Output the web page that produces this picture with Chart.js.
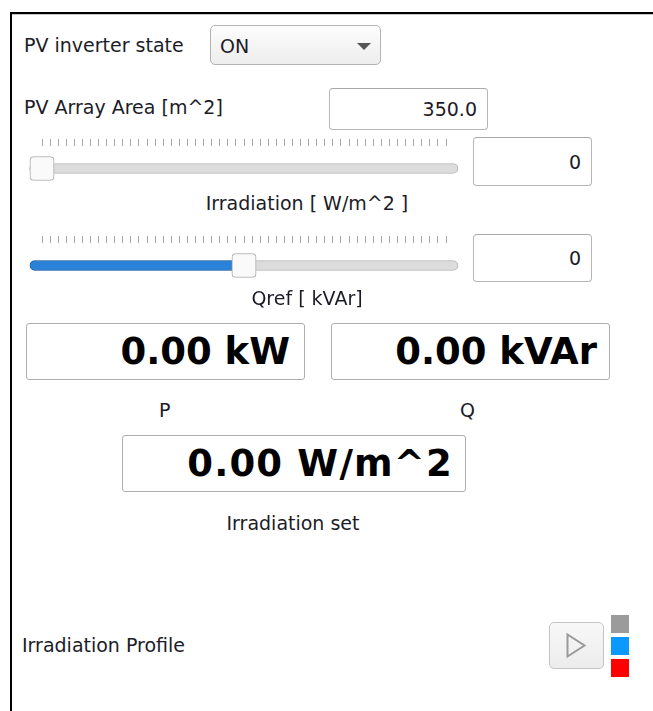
<!DOCTYPE html>
<html>
<head>
<meta charset="utf-8">
<script src="https://cdn.jsdelivr.net/npm/chart.js@4.4.1/dist/chart.umd.min.js"></script>
<style>
  html, body { margin: 0; padding: 0; background: #fff; }
  body { width: 653px; height: 711px; position: relative; overflow: hidden;
         font-family: "DejaVu Sans", Verdana, sans-serif; color: #1c1c28; }
  .abs { position: absolute; }
  .lbl { position: absolute; font-size: 19px; white-space: nowrap; line-height: 24px; }
  .frameTop { left: 10px; top: 12px; width: 643px; height: 2px; background: #000; }
  .frameTop2 { left: 12px; top: 14px; width: 641px; height: 1px; background: #c8c8c8; }
  .frameLeft { left: 10px; top: 12px; width: 2px; height: 699px; background: #000; }
  .combo { left: 210px; top: 25px; width: 169px; height: 38px; border: 1px solid #b4b4b4; border-radius: 5px;
           background: linear-gradient(#fdfdfd, #ededed); box-sizing: content-box; }
  .combo span { position: absolute; left: 9px; top: 8px; font-size: 19px; line-height: 24px; }
  .combo .arrow { position: absolute; left: 146px; top: 17px; width: 0; height: 0;
                  border-left: 7px solid transparent; border-right: 7px solid transparent; border-top: 7px solid #555; }
  .edit { border: 1px solid #b6b6b6; border-top-color: #a8a8a8; border-radius: 4px; background: #fff;
          font-size: 19px; text-align: right; box-sizing: border-box; display: flex; align-items: center;
          justify-content: flex-end; padding-right: 10px; }
  .big { border: 1px solid #aeaeae; border-radius: 3px; background: #fff; box-sizing: border-box;
         display: flex; align-items: center; justify-content: flex-end;
         font-family: "DejaVu Sans", Verdana, sans-serif; font-weight: bold; font-size: 37px; color: #000; }
  .btn { left: 549px; top: 622px; width: 55px; height: 47px; box-sizing: border-box; border: 1px solid #c4c4c4;
         border-radius: 5px; background: linear-gradient(#f8f8f8, #ececec); }
  .sq { width: 18px; height: 18px; left: 611px; }
  canvas { display: block; }
</style>
</head>
<body>
<div class="abs frameTop"></div>
<div class="abs frameTop2"></div>
<div class="abs frameLeft"></div>

<div class="lbl" style="left:24px; top:33px;">PV inverter state</div>
<div class="abs combo"><span>ON</span><div class="arrow"></div></div>

<div class="lbl" style="left:24px; top:95px;">PV Array Area [m^2]</div>
<div class="abs edit" id="areaBox" style="left:329px; top:88px; width:159px; height:42px;"></div>

<div class="abs" style="left:28px; top:134px; width:432px; height:57px;"><canvas id="irrSlider"></canvas></div>
<div class="abs edit" id="irrBox" style="left:473px; top:137px; width:119px; height:49px;"></div>
<div class="lbl" id="irrLabel" style="left:0; width:614px; text-align:center; top:191px;"></div>

<div class="abs" style="left:28px; top:231px; width:432px; height:57px;"><canvas id="qSlider"></canvas></div>
<div class="abs edit" id="qBox" style="left:473px; top:234px; width:119px; height:48px;"></div>
<div class="lbl" id="qLabel" style="left:0; width:614px; text-align:center; top:286px;"></div>

<div class="abs big" id="pBox" style="left:26px; top:323px; width:279px; height:57px; padding-right:14px;"></div>
<div class="abs big" id="qOutBox" style="left:331px; top:323px; width:279px; height:57px; padding-right:12px;"></div>
<div class="lbl" style="left:159px; top:398px;">P</div>
<div class="lbl" style="left:460px; top:398px;">Q</div>

<div class="abs big" id="irrSetBox" style="left:122px; top:435px; width:344px; height:57px; padding-right:12px; letter-spacing:1.2px;"></div>
<div class="lbl" style="left:0; width:586px; text-align:center; top:511px;">Irradiation set</div>

<div class="lbl" style="left:22px; top:633px;">Irradiation Profile</div>
<div class="abs btn">
  <svg width="55" height="47" style="position:absolute;left:-1px;top:-1px">
    <path d="M18.5 12.5 L35.5 23.5 L18.5 34.5 Z" fill="none" stroke="#9a9a9a" stroke-width="2"/>
  </svg>
</div>
<div class="abs sq" style="top:615px; background:#9b9b9b;"></div>
<div class="abs sq" style="top:637px; background:#0a99ff;"></div>
<div class="abs sq" style="top:659px; background:#ff0000;"></div>

<script>
// panel values
const inverterState = "ON";
const arrayArea = 350.0;

// slider ranges and current values
const irrRange = [0, 1000];
const irrStep = 20;
const irrValue = 0;
const qRange = [-100, 100];
const qStep = 4;
const qValue = 0;

// measured outputs
const pValue = 0.00;
const qOutValue = 0.00;
const irrSetValue = 0.00;

const sliderLabels = ["Irradiation [ W/m^2 ]", "Qref [ kVAr]"];

document.getElementById("areaBox").textContent = arrayArea.toFixed(1);
document.getElementById("irrBox").textContent = irrValue;
document.getElementById("qBox").textContent = qValue;
document.getElementById("irrLabel").textContent = sliderLabels[0];
document.getElementById("qLabel").textContent = sliderLabels[1];
document.getElementById("pBox").textContent = pValue.toFixed(2) + " kW";
document.getElementById("qOutBox").textContent = qOutValue.toFixed(2) + " kVAr";
document.getElementById("irrSetBox").textContent = irrSetValue.toFixed(2) + " W/m^2";

function makeSlider(id, range, step, value, label) {
  var min = range[0];
  var max = range[1];
  var pad = (max - min) * 0.03;
  var ctx = document.getElementById(id).getContext("2d");
  return new Chart(ctx, {
    type: "bar",
    data: {
      labels: [label],
      datasets: [
        {
          label: "handle",
          data: [[value - pad, value + pad]],
          backgroundColor: "#fafafa",
          borderColor: "#a9a9a9",
          borderWidth: 1,
          borderRadius: 4,
          borderSkipped: false,
          barThickness: 24,
          grouped: false,
          clip: false,
          order: 1,
        },
        {
          label: "fill",
          data: [[min - pad, value]],
          backgroundColor: "#2a82d8",
          borderColor: "#1c64b0",
          borderWidth: 1,
          borderRadius: 5,
          borderSkipped: false,
          barThickness: 10,
          grouped: false,
          clip: false,
          order: 2,
        },
        {
          label: "groove",
          data: [[min - pad, max + pad]],
          backgroundColor: "#dcdcdc",
          borderColor: "#b3b3b3",
          borderWidth: 1,
          borderRadius: 5,
          borderSkipped: false,
          barThickness: 10,
          grouped: false,
          clip: false,
          order: 3,
        },
      ],
    },
    options: {
      indexAxis: "y",
      responsive: true,
      maintainAspectRatio: false,
      animation: false,
      events: [],
      layout: {
        padding: { left: 14, right: 14, top: 5, bottom: 0 },
      },
      plugins: {
        legend: { display: false },
        tooltip: { enabled: false },
      },
      scales: {
        x: {
          type: "linear",
          position: "top",
          min: min,
          max: max,
          border: { display: false },
          grid: {
            display: true,
            drawOnChartArea: false,
            drawTicks: true,
            tickLength: 7,
            color: "#a6a6a6",
            lineWidth: 1,
          },
          ticks: { display: false, stepSize: step },
        },
        y: {
          display: false,
        },
      },
    },
  });
}

makeSlider("irrSlider", irrRange, irrStep, irrValue, sliderLabels[0]);
makeSlider("qSlider", qRange, qStep, qValue, sliderLabels[1]);
</script>
</body>
</html>
